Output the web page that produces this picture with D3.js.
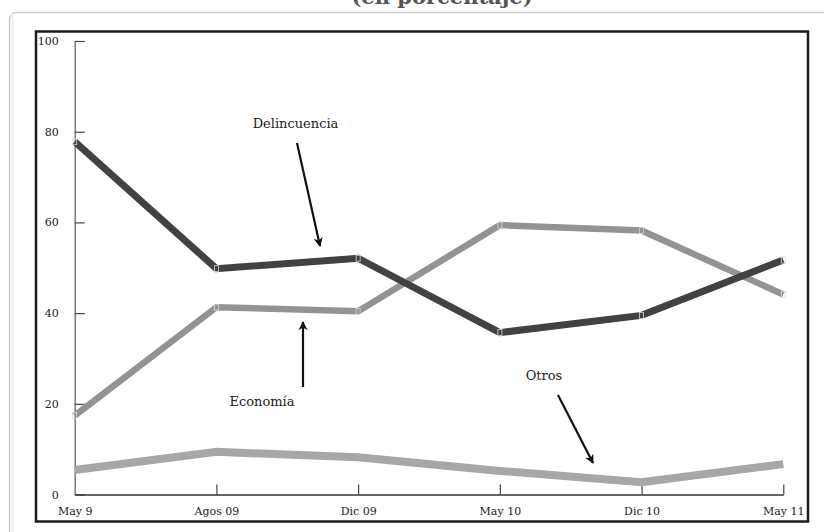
<!DOCTYPE html>
<html><head><meta charset="utf-8">
<script src="https://cdn.jsdelivr.net/npm/d3@7"></script>
<style>html,body{margin:0;padding:0;background:#fff;overflow:hidden}</style>
</head><body>
<svg id="c" width="824" height="532"></svg>
<script>
const categories = ["May 9","Agos 09","Dic 09","May 10","Dic 10","May 11"];
const delincuencia = [77.8, 49.8, 52.1, 35.7, 39.5, 51.7];
const economia = [17.4, 41.3, 40.4, 59.4, 58.2, 44.1];
const otros = [5.4, 9.4, 8.2, 5.2, 2.7, 6.7];
const yTicks = [0, 20, 40, 60, 80, 100];
const title = "(en porcentaje)";

const svg = d3.select("#c");
const font = "'DejaVu Serif', serif";

// title (cut at top)
svg.append("text").attr("x", 442).attr("y", 4).attr("text-anchor","middle")
  .attr("font-family", font).attr("font-weight","bold").attr("font-size", 21)
  .attr("fill","#555").text(title);

// outer rounded box
svg.append("rect").attr("x",9.5).attr("y",12.5).attr("width",840).attr("height",540).attr("rx",7)
  .attr("fill","#fff").attr("stroke","#cdcdcd").attr("stroke-width",1.5);
svg.append("rect").attr("x",11).attr("y",14).attr("width",3).attr("height",530)
  .attr("fill","#f3f3f3");

// black frame
svg.append("rect").attr("x",36).attr("y",31.5).attr("width",772).attr("height",490)
  .attr("fill","none").attr("stroke","#1c1c1c").attr("stroke-width",2.5);

const x = d3.scalePoint().domain(categories).range([74.7, 783.3]);
const y = d3.scaleLinear().domain([0,100]).range([494.5, 41]);

// y axis
const ya = svg.append("g").attr("transform","translate(74.7,0)")
  .call(d3.axisLeft(y).tickValues(yTicks).tickSize(-10).tickSizeOuter(0).tickPadding(16).tickFormat(d3.format("d")));
ya.select(".domain").attr("stroke","#666").attr("stroke-width",1.3);
ya.selectAll(".tick line").attr("stroke","#444").attr("stroke-width",1.2);
ya.selectAll("text").attr("font-family",font).attr("font-size",11).attr("fill","#222");

// x axis
const xa = svg.append("g").attr("transform","translate(0,494.5)")
  .call(d3.axisBottom(x).tickSize(-10).tickSizeOuter(0).tickPadding(13));
xa.select(".domain").attr("stroke","#333").attr("stroke-width",1.5);
xa.selectAll(".tick line").attr("stroke","#444").attr("stroke-width",1.2);
xa.selectAll(".tick").filter((d,i)=>i===0).select("line").remove();
xa.selectAll("text").attr("font-family",font).attr("font-size",11).attr("fill","#222");

const line = d3.line().x((d,i)=>x(categories[i])).y(d=>y(d));
const series = [
  {data: otros, color:"#a7a7a9", w:8, markers:false},
  {data: economia, color:"#939395", w:6.5, markers:true},
  {data: delincuencia, color:"#424243", w:7, markers:true}
];
series.forEach(s=>{
  svg.append("path").datum(s.data).attr("d",line).attr("fill","none")
    .attr("stroke",s.color).attr("stroke-width",s.w).attr("stroke-linejoin","miter");
  if (s.markers) {
    svg.append("g").selectAll("rect").data(s.data).join("rect")
      .attr("x",(d,i)=>x(categories[i])-2).attr("y",d=>y(d)-3)
      .attr("width",4).attr("height",6).attr("fill","none")
      .attr("stroke","#d8d8d8").attr("stroke-width",0.8);
  }
});

// arrow marker
svg.append("defs").append("marker").attr("id","ah").attr("viewBox","0 0 10 10")
  .attr("refX",9).attr("refY",5).attr("markerWidth",4.2).attr("markerHeight",4.2)
  .attr("orient","auto").attr("markerUnits","strokeWidth")
  .append("path").attr("d","M0,0 L10,5 L0,10 L3,5 z").attr("fill","#111");

const notes = [
  {t:"Delincuencia", tx:295.5, ty:128, x1:297, y1:143, x2:320, y2:246},
  {t:"Economía", tx:262, ty:406, x1:303, y1:387, x2:303, y2:322},
  {t:"Otros", tx:544, ty:380, x1:558, y1:395, x2:593, y2:463}
];
notes.forEach(n=>{
  svg.append("text").attr("x",n.tx).attr("y",n.ty).attr("text-anchor","middle")
    .attr("font-family",font).attr("font-size",13).attr("fill","#222").text(n.t);
  svg.append("line").attr("x1",n.x1).attr("y1",n.y1).attr("x2",n.x2).attr("y2",n.y2)
    .attr("stroke","#111").attr("stroke-width",2.2).attr("marker-end","url(#ah)");
});
</script>
</body></html>
